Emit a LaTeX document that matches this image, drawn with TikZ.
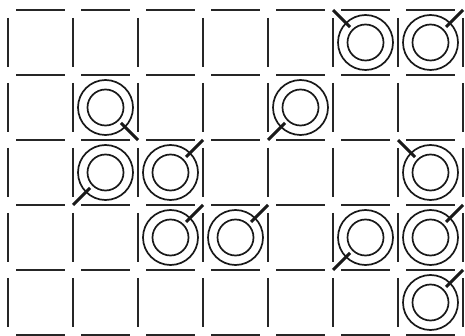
\documentclass[tikz,border=0pt]{standalone}
\begin{document}
\begin{tikzpicture}[x=1pt,y=-1pt,
  gridline/.style={line width=1.8pt, black!85},
  ringline/.style={line width=1.7pt, black!90},
  tickline/.style={line width=3pt, black!90}]
\useasboundingbox (0,0) rectangle (465,336);
% horizontal grid segments
\foreach \j in {0,...,5}
  \foreach \i in {0,...,6}
    \draw[gridline] ({8+65*\i+8},{10+65*\j}) -- ({8+65*\i+57},{10+65*\j});
% vertical grid segments
\foreach \i in {0,...,7}
  \foreach \j in {0,...,4}
    \draw[gridline] ({8+65*\i},{10+65*\j+8}) -- ({8+65*\i},{10+65*\j+57});
% rings: column / row / corner direction (dx, dy) of the tick
\foreach \c/\r/\dx/\dy in {5/0/-1/-1, 6/0/1/-1,
                           1/1/1/1, 4/1/-1/1,
                           1/2/-1/1, 2/2/1/-1, 6/2/-1/-1,
                           2/3/1/-1, 3/3/1/-1, 5/3/-1/1, 6/3/1/-1,
                           6/4/1/-1} {
  \node[inner sep=0pt, minimum size=0pt] (ring-\c-\r) at ({8+65*\c+32.5},{10+65*\r+32.5}) {};
  \coordinate (corner-\c-\r) at ({8+65*\c+32.5+32.5*\dx},{10+65*\r+32.5+32.5*\dy});
  \coordinate (tip-\c-\r) at ({8+65*\c+32.5+15.5*\dx},{10+65*\r+32.5+15.5*\dy});
  \draw[ringline] (ring-\c-\r) circle[radius=27.5];
  \draw[ringline] (ring-\c-\r) circle[radius=18];
  \draw[tickline] (corner-\c-\r) -- (tip-\c-\r);
}
\end{tikzpicture}
\end{document}
